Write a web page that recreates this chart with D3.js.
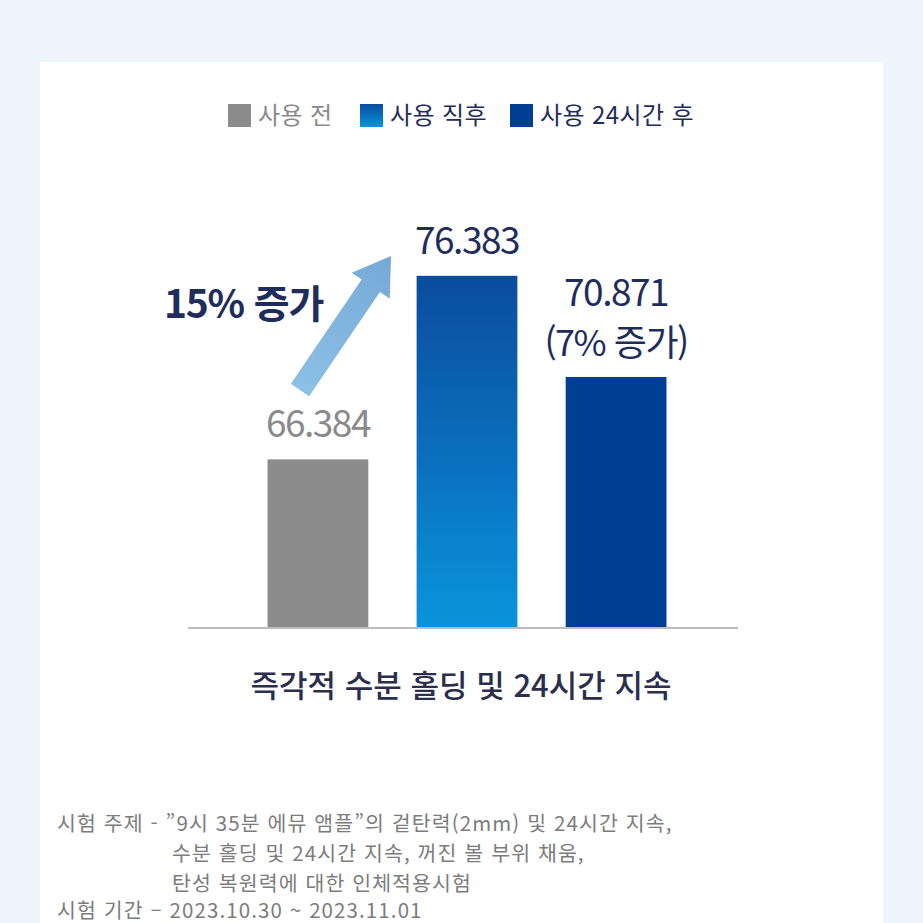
<!DOCTYPE html>
<html lang="ko">
<head>
<meta charset="utf-8">
<title>즉각적 수분 홀딩 및 24시간 지속</title>
<script src="https://d3js.org/d3.v7.min.js"></script>
<style>
  html, body { margin: 0; padding: 0; background: #eef5fc; }
  svg { display: block; }
  text { font-family: "Noto Sans CJK KR", "Noto Sans", sans-serif; }
</style>
</head>
<body>
<svg width="923" height="923"></svg>
<script>
// chart data
const categories = ["사용 전", "사용 직후", "사용 24시간 후"];
const values = [66.384, 76.383, 70.871];
const valueLabels = ["66.384", "76.383", "70.871"];
const subLabels = ["", "", "(7% 증가)"];
const xTitle = "즉각적 수분 홀딩 및 24시간 지속";
const increaseLabel = "15% 증가";
const notes = [
  "시험 주제 - \u201D9시 35분 에뮤 앰플\u201D의 겉탄력(2mm) 및 24시간 지속,",
  "수분 홀딩 및 24시간 지속, 꺼진 볼 부위 채움,",
  "탄성 복원력에 대한 인체적용시험",
  "시험 기간 – 2023.10.30 ~ 2023.11.01"
];

const svg = d3.select("svg");
const W = 923, H = 923;

// white card
svg.append("rect").attr("x", 40).attr("y", 62).attr("width", 843).attr("height", H)
  .attr("fill", "#ffffff");

const defs = svg.append("defs");
const gMid = defs.append("linearGradient").attr("id", "gradMid")
  .attr("x1", 0).attr("y1", 0).attr("x2", 0).attr("y2", 1);
gMid.append("stop").attr("offset", "0%").attr("stop-color", "#0b4c9e");
gMid.append("stop").attr("offset", "55%").attr("stop-color", "#0a72c0");
gMid.append("stop").attr("offset", "100%").attr("stop-color", "#0995da");

const gArrow = defs.append("linearGradient").attr("id", "gradArrow")
  .attr("x1", 0).attr("y1", 0).attr("x2", 1).attr("y2", 0);
gArrow.append("stop").attr("offset", "0%").attr("stop-color", "#8cc0e6");
gArrow.append("stop").attr("offset", "100%").attr("stop-color", "#76a9d6");

const fills = ["#8c8c8c", "url(#gradMid)", "#003f94"];
const labelColors = ["#8a8a8a", "#1f2d5c", "#1f2d5c"];

const x = d3.scaleBand().domain(categories).range([193, 741])
  .paddingInner(0.324).paddingOuter(0.5);
const y = d3.scaleLinear().domain([57.2, 80]).range([628, 209.4]);

// legend
const legendX = [228, 360, 510];
const legend = svg.append("g").selectAll("g").data(categories).join("g")
  .attr("transform", (d, i) => `translate(${legendX[i]},104)`);
legend.append("rect").attr("width", 23).attr("height", 23)
  .attr("fill", (d, i) => fills[i]);
legend.append("text").attr("x", 30).attr("y", 20)
  .attr("font-size", 24).attr("font-weight", 400).attr("letter-spacing", 0.4)
  .attr("fill", (d, i) => i === 0 ? "#8a8a8a" : "#1f2d5c")
  .text(d => d);

// bars
svg.append("g").selectAll("rect").data(values).join("rect")
  .attr("x", (d, i) => x(categories[i]))
  .attr("y", d => y(d))
  .attr("width", x.bandwidth())
  .attr("height", d => y.range()[0] - y(d))
  .attr("fill", (d, i) => fills[i]);

// baseline
svg.append("line").attr("x1", 188).attr("x2", 738)
  .attr("y1", 628).attr("y2", 628)
  .attr("stroke", "#bdbdbd").attr("stroke-width", 2);

// value labels
const lab = svg.append("g").selectAll("g").data(values).join("g");
lab.append("text")
  .attr("x", (d, i) => x(categories[i]) + x.bandwidth() / 2)
  .attr("y", (d, i) => y(d) - (subLabels[i] ? 71 : 22))
  .attr("text-anchor", "middle").attr("font-size", 37)
  .attr("letter-spacing", -1.5)
  .attr("fill", (d, i) => labelColors[i])
  .text((d, i) => valueLabels[i]);
lab.filter((d, i) => subLabels[i]).append("text")
  .attr("x", (d, i) => x(categories[2]) + x.bandwidth() / 2)
  .attr("y", d => y(d) - 21)
  .attr("text-anchor", "middle").attr("font-size", 36)
  .attr("letter-spacing", -1.5)
  .attr("fill", "#1f2d5c")
  .text(subLabels[2]);

// increase arrow (annotation)
const tail = [300, 390], tip = [391, 256];
const len = Math.hypot(tip[0] - tail[0], tip[1] - tail[1]);
const ang = Math.atan2(tip[1] - tail[1], tip[0] - tail[0]) * 180 / Math.PI;
const sw = 11, hw = 23, hl = 36;
svg.append("path")
  .attr("transform", `translate(${tail[0]},${tail[1]}) rotate(${ang})`)
  .attr("d", `M0,${-sw}L${len - hl},${-sw}L${len - hl},${-hw}L${len},0L${len - hl},${hw}L${len - hl},${sw}L0,${sw}Z`)
  .attr("fill", "url(#gradArrow)");

svg.append("text").attr("x", 164).attr("y", 318)
  .attr("font-size", 39).attr("font-weight", 700).attr("letter-spacing", -1.2)
  .attr("fill", "#1f2d5c").text(increaseLabel);

// category title
svg.append("text").attr("x", 461).attr("y", 697)
  .attr("text-anchor", "middle").attr("font-size", 31).attr("font-weight", 500)
  .attr("letter-spacing", 0)
  .attr("fill", "#2b2f4d").text(xTitle);

// notes
const noteX = [57, 172, 172, 57];
const noteY = [831, 861, 891, 918];
svg.append("g").selectAll("text").data(notes).join("text")
  .attr("x", (d, i) => noteX[i]).attr("y", (d, i) => noteY[i])
  .attr("font-size", 20.5).attr("letter-spacing", 1.1)
  .attr("fill", "#7c7c7c").text(d => d);
</script>
</body>
</html>
